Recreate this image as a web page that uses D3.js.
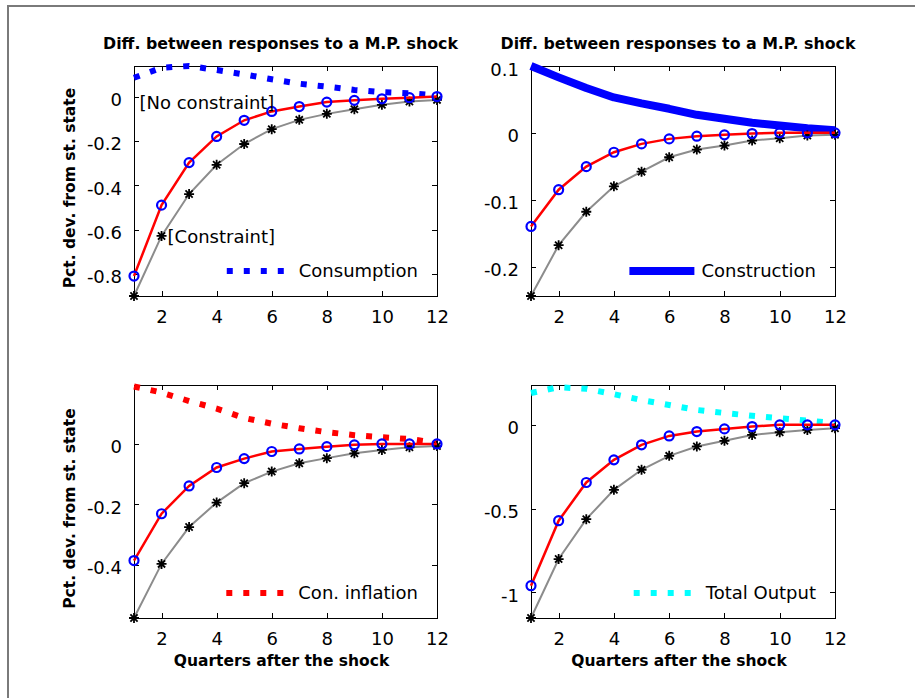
<!DOCTYPE html>
<html><head><meta charset="utf-8">
<script src="https://cdn.jsdelivr.net/npm/d3@7"></script>
<style>body{margin:0;background:#fff}svg{display:block}</style>
</head><body>
<script>
// ---------- data ----------
const quarters = [1,2,3,4,5,6,7,8,9,10,11,12];
const xTicks = [2,4,6,8,10,12];

// Consumption
const consNoConstraint = [-0.81,-0.49,-0.298,-0.18,-0.107,-0.067,-0.045,-0.025,-0.017,-0.01,-0.005,0.0];
const consConstraint   = [-0.9,-0.629,-0.44,-0.308,-0.214,-0.147,-0.105,-0.078,-0.057,-0.037,-0.022,-0.015];
const consDiff         = [0.085,0.13,0.138,0.12,0.1,0.078,0.058,0.045,0.03,0.02,0.015,0.005];
const consYTicks = [-0.8,-0.6,-0.4,-0.2,0];
const consYDomain = [-0.9,0.138];

// Construction
const constrNoConstraint = [-0.14,-0.085,-0.0505,-0.029,-0.0165,-0.009,-0.005,-0.003,-0.001,0,0,0];
const constrConstraint   = [-0.244,-0.168,-0.118,-0.08,-0.058,-0.0365,-0.025,-0.019,-0.0115,-0.008,-0.004,-0.003];
const constrDiff         = [0.1,0.083,0.067,0.053,0.044,0.036,0.027,0.021,0.015,0.011,0.007,0.004];
const constrYTicks = [-0.2,-0.1,0,0.1];
const constrYDomain = [-0.244,0.1];

// Con. inflation
const inflNoConstraint = [-0.386,-0.231,-0.139,-0.078,-0.0485,-0.025,-0.0165,-0.009,-0.003,0,0,0];
const inflConstraint   = [-0.576,-0.397,-0.275,-0.194,-0.13,-0.0915,-0.064,-0.047,-0.031,-0.02,-0.011,-0.007];
const inflDiff         = [0.19,0.17,0.142,0.117,0.086,0.067,0.052,0.039,0.029,0.022,0.016,0.004];
const inflYTicks = [-0.4,-0.2,0];
const inflYDomain = [-0.576,0.195];

// Total Output
const outNoConstraint = [-0.96,-0.572,-0.344,-0.209,-0.119,-0.066,-0.04,-0.024,-0.01,0,0,0];
const outConstraint   = [-1.153,-0.801,-0.563,-0.388,-0.268,-0.185,-0.129,-0.095,-0.06,-0.044,-0.03,-0.02];
const outDiff         = [0.19,0.225,0.215,0.183,0.148,0.119,0.089,0.071,0.054,0.04,0.026,0.01];
const outYTicks = [-1,-0.5,0];
const outYDomain = [-1.153,0.238];

const panelTitles = ["Diff. between responses to a M.P. shock","Diff. between responses to a M.P. shock","",""];
const legendLabels = ["Consumption","Construction","Con. inflation","Total Output"];
const yLabel = "Pct. dev. from st. state";
const xLabel = "Quarters after the shock";
const noConstraintLabel = "[No constraint]";
const constraintLabel = "[Constraint]";

// ---------- layout ----------
const W = 915, H = 698;
const boxes = [
  {x0:134, x1:437, y0:66,  y1:296},
  {x0:531, x1:835, y0:66,  y1:296},
  {x0:134, x1:437, y0:385, y1:618},
  {x0:531, x1:835, y0:385, y1:618}
];
const panels = [
  {no:consNoConstraint, con:consConstraint, diff:consDiff, ticks:consYTicks, dom:consYDomain, color:"#0000ff", solid:false, ylab:true, xlab:false},
  {no:constrNoConstraint, con:constrConstraint, diff:constrDiff, ticks:constrYTicks, dom:constrYDomain, color:"#0000ff", solid:true, ylab:false, xlab:false},
  {no:inflNoConstraint, con:inflConstraint, diff:inflDiff, ticks:inflYTicks, dom:inflYDomain, color:"#ff0000", solid:false, ylab:true, xlab:true},
  {no:outNoConstraint, con:outConstraint, diff:outDiff, ticks:outYTicks, dom:outYDomain, color:"#00ffff", solid:false, ylab:false, xlab:true}
];

const FONT = "'DejaVu Sans', sans-serif";
const svg = d3.select("body").append("svg").attr("width", W).attr("height", H);
svg.append("rect").attr("width", W).attr("height", H).attr("fill", "#fff");
svg.append("path").attr("d", `M8,${H} V6 H${W}`).attr("fill","none").attr("stroke","#7a7a7a").attr("stroke-width",2);

const fmt = d => String(+d.toFixed(3));
const starPath = "M-5,0H5M0,-5V5M-3.6,-3.6L3.6,3.6M-3.6,3.6L3.6,-3.6";

panels.forEach((p, i) => {
  const b = boxes[i];
  const x = d3.scaleLinear().domain([1, 12]).range([b.x0, b.x1]);
  const y = d3.scaleLinear().domain(p.dom).range([b.y1, b.y0]);
  const g = svg.append("g");
  const tl = 5;

  // box
  g.append("rect").attr("x", b.x0).attr("y", b.y0).attr("width", b.x1 - b.x0).attr("height", b.y1 - b.y0)
    .attr("fill", "#fff").attr("stroke", "#000").attr("stroke-width", 1).attr("shape-rendering","crispEdges");

  // ticks (inward, mirrored)
  const axB = d3.axisBottom(x).tickValues(xTicks).tickSize(-tl).tickFormat(fmt).tickPadding(tl+9);
  const axT = d3.axisTop(x).tickValues(xTicks).tickSize(-tl).tickFormat("");
  const axL = d3.axisLeft(y).tickValues(p.ticks).tickSize(-tl).tickFormat(fmt).tickPadding(tl+7);
  const axR = d3.axisRight(y).tickValues(p.ticks).tickSize(-tl).tickFormat("");
  [[axB,`translate(0,${b.y1})`],[axT,`translate(0,${b.y0})`],[axL,`translate(${b.x0},0)`],[axR,`translate(${b.x1},0)`]].forEach(([ax,tr]) => {
    const a = g.append("g").attr("transform", tr).call(ax);
    a.select(".domain").remove();
    a.selectAll("line").attr("stroke","#000").attr("shape-rendering","crispEdges");
    a.selectAll("text").attr("font-family", FONT).attr("font-size", 18).attr("fill","#000");
  });
  g.selectAll("text").filter(function(){ return this.getAttribute("dy")==="0.32em"; }).attr("dy","0.5em");

  const line = d3.line().x((d, k) => x(quarters[k])).y(d => y(d));

  // difference line
  const dl = g.append("path").attr("d", line(p.diff)).attr("fill","none").attr("stroke", p.color);
  if (p.solid) dl.attr("stroke-width", 8).attr("stroke-linejoin","round");
  else dl.attr("stroke-width", 6).attr("stroke-dasharray","6,11");

  // constraint
  g.append("path").attr("d", line(p.con)).attr("fill","none").attr("stroke","#8c8c8c").attr("stroke-width",2);
  g.selectAll(".star").data(p.con).enter().append("path")
    .attr("transform",(d,k)=>`translate(${x(quarters[k])},${y(d)})`)
    .attr("d", starPath).attr("stroke","#000").attr("stroke-width",1.8).attr("fill","none");

  // no constraint
  g.append("path").attr("d", line(p.no)).attr("fill","none").attr("stroke","#ff0000").attr("stroke-width",2.5);
  g.selectAll(".circ").data(p.no).enter().append("circle")
    .attr("cx",(d,k)=>x(quarters[k])).attr("cy",d=>y(d)).attr("r",4.5)
    .attr("fill","none").attr("stroke","#0000ff").attr("stroke-width",2.2);

  // legend
  const lt = g.append("text").attr("x", b.x1 - 19).attr("y", b.y1 - 25).attr("dy","0.36em")
    .attr("text-anchor","end").attr("font-family",FONT).attr("font-size",18).attr("fill","#000").text(legendLabels[i]);
  const tw = lt.node().getComputedTextLength();
  const ts = b.x1 - 19 - tw;
  const ll = g.append("line").attr("x1", ts - 72).attr("x2", ts - 7).attr("y1", b.y1 - 25).attr("y2", b.y1 - 25).attr("stroke", p.color);
  if (p.solid) ll.attr("stroke-width", 8);
  else ll.attr("stroke-width", 6).attr("stroke-dasharray","6,11");

  // title
  if (panelTitles[i]) {
    g.append("text").attr("x", (b.x0 + b.x1)/2 - 5).attr("y", 49).attr("text-anchor","middle")
      .attr("font-family",FONT).attr("font-weight","bold").attr("font-size",15.8).text(panelTitles[i]);
  }
  if (p.ylab) {
    const cy = (b.y0 + b.y1)/2 + 7;
    g.append("text").attr("transform",`translate(75,${cy}) rotate(-90)`).attr("text-anchor","middle")
      .attr("font-family",FONT).attr("font-weight","bold").attr("font-size",15.5).text(yLabel);
  }
  if (p.xlab) {
    g.append("text").attr("x", (b.x0 + b.x1)/2 - 4).attr("y", 666).attr("text-anchor","middle")
      .attr("font-family",FONT).attr("font-weight","bold").attr("font-size",15.5).text(xLabel);
  }
  if (i === 0) {
    g.append("text").attr("x", x(1.2)).attr("y", y(-0.025)).attr("dy","0.36em")
      .attr("font-family",FONT).attr("font-size",18).text(noConstraintLabel);
    g.append("text").attr("x", x(2.22)).attr("y", y(-0.63)).attr("dy","0.36em")
      .attr("font-family",FONT).attr("font-size",18).text(constraintLabel);
  }
});
</script>
</body></html>
